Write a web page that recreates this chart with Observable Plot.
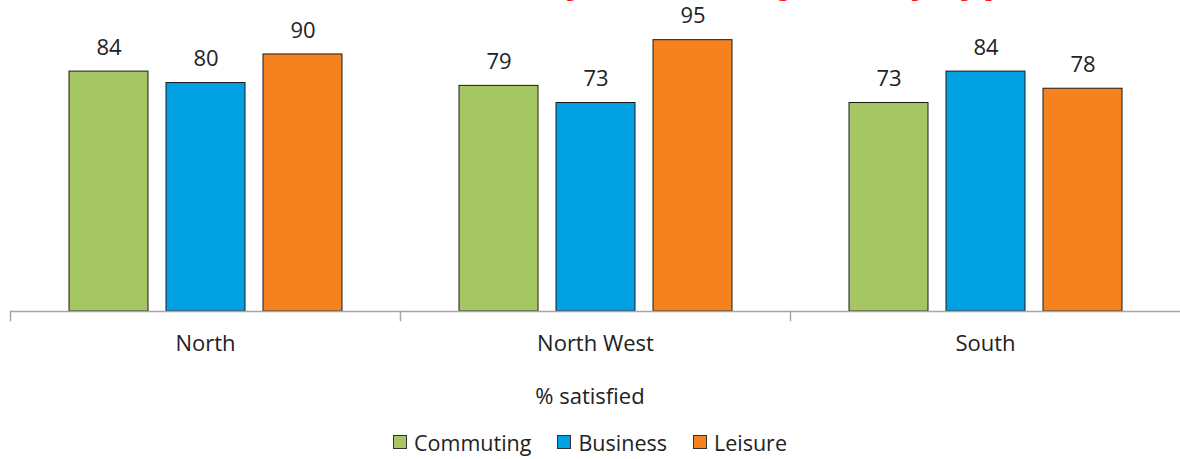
<!DOCTYPE html>
<html><head><meta charset="utf-8">
<script src="https://cdn.jsdelivr.net/npm/d3@7"></script>
<script src="https://cdn.jsdelivr.net/npm/@observablehq/plot@0.6"></script>
<style>
html,body{margin:0;padding:0;background:#fff;}
body{overflow:hidden;font-family:"Open Sans",sans-serif;color:#222;position:relative;width:1180px;height:459px}
#title{position:absolute;top:0;left:0;overflow:hidden}
#chart svg{display:block}
#xlabel{height:60px;line-height:60px;text-align:center;font-size:22px;color:#222}
#legend{height:34px;display:flex;justify-content:center;align-items:center;font-size:21.5px;color:#222}
.item{display:flex;align-items:center;margin:0 13px}
.sw{width:12px;height:12px;border:1px solid #333;margin-right:7px}
</style></head><body>
<svg id="title" width="1180" height="20"><text id="ttext" x="0" y="-8" fill="#ff1010" font-family="Open Sans, sans-serif" font-weight="bold" font-size="42">Overall satisfaction by area and journey type</text></svg>
<div id="chart"></div>
<div id="xlabel">% satisfied</div>
<div id="legend"></div>
<script>
const title = "Overall satisfaction by area and journey type";
const regions = ["North", "North West", "South"];
const types = ["Commuting", "Business", "Leisure"];
const colors = ["#a5c663", "#00a0e2", "#f5821f"];
const commuting = [84, 79, 73];
const business = [80, 73, 84];
const leisure = [90, 95, 78];
const series = [commuting, business, leisure];
const data = regions.flatMap((r, i) => types.map((t, j) => ({region: r, type: t, value: series[j][i]})));

// Title (cut off at top of the picture, only descenders visible)
const tt = document.getElementById("ttext");
tt.textContent = title;
function charCenter(i) { const b = tt.getExtentOfChar(i); return b.x + b.width / 2; }
try {
  const iy = title.indexOf("y"), ip = title.lastIndexOf("p");
  const span = charCenter(ip) - charCenter(iy);
  const fs = 42 * 418 / span;
  tt.setAttribute("font-size", fs);
  tt.setAttribute("x", 577 - charCenter(iy));
} catch (e) {}

const chart = Plot.plot({
  width: 1180, height: 365,
  marginLeft: 9, marginRight: 0, marginTop: 0, marginBottom: 45,
  style: {fontFamily: "Open Sans, sans-serif", color: "#222", background: "#fff"},
  fx: {domain: regions, padding: 0, label: null},
  x: {domain: types, paddingInner: 0.186, paddingOuter: 0.603, axis: null},
  y: {domain: [0, 100], range: [311, 25.4], axis: null},
  color: {domain: types, range: colors},
  marks: [
    Plot.barY(data, {fx: "region", x: "type", y: "value", fill: "type", stroke: "#1a1a1a", strokeWidth: 1}),
    Plot.text(data, {fx: "region", x: "type", y: "value", text: "value", dy: -24, fontSize: 22, fill: "#222"}),
    Plot.ruleY([0], {stroke: "#a6a6a6", strokeWidth: 1.5}),
    Plot.frame({anchor: "left", insetTop: 311, stroke: "#a6a6a6", strokeWidth: 1.5}),
    Plot.axisFx({anchor: "bottom", tickSize: 0, tickPadding: 15, fontSize: 22, label: null, fill: "#222"})
  ]
});
document.getElementById("chart").appendChild(chart);

const legend = document.getElementById("legend");
types.forEach((t, i) => {
  const it = document.createElement("div");
  it.className = "item";
  const sw = document.createElement("span");
  sw.className = "sw";
  sw.style.background = colors[i];
  const lab = document.createElement("span");
  lab.textContent = t;
  it.appendChild(sw); it.appendChild(lab);
  legend.appendChild(it);
});
</script>
</body></html>
